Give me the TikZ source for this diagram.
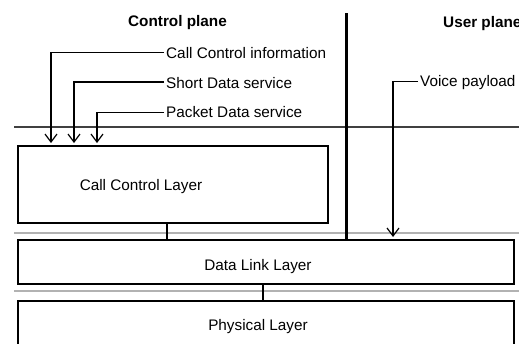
\documentclass[tikz,border=0pt]{standalone}
\usepackage{fontspec}
\setmainfont{Liberation Sans}
\usetikzlibrary{arrows.meta}
\begin{document}
\begin{tikzpicture}[x=1pt,y=-1pt,
  lbl/.style={inner xsep=2pt,inner ysep=0pt,anchor=base west,font=\fontsize{15.3}{18}\selectfont},
  hdr/.style={inner sep=0pt,anchor=base west,font=\fontsize{15.3}{18}\selectfont\bfseries},
  layer/.style={draw,line width=2pt,rectangle,anchor=north west,inner sep=0pt},
  txt/.style={inner sep=0pt,anchor=base,font=\fontsize{15.3}{18}\selectfont},
  arr/.style={line width=1.2pt,-{Straight Barb[length=8pt,width=12pt,line width=1.2pt]},shorten >=2pt},
  sep/.style={line width=2pt,black!30},
  thinsep/.style={line width=1.1pt,black!75}]
\useasboundingbox (0,0) rectangle (519,343);
% boxes
\node[layer,minimum width=310pt,minimum height=77pt] (cc) at (17,145) {};
\node[layer,minimum width=496pt,minimum height=44pt] (dl) at (17,239) {};
\node[layer,minimum width=496pt,minimum height=70pt] (ph) at (17,300) {};
\node[txt] (cct) at (141,190) {Call Control Layer};
\node[txt] (dlt) at (258,270) {Data Link Layer};
\node[txt] (pht) at (258,330) {Physical Layer};
% separator lines
\coordinate (s1l) at (14,127); \coordinate (s1r) at (519,127);
\coordinate (s2l) at (14,233); \coordinate (s2r) at (519,233);
\coordinate (s3l) at (14,291); \coordinate (s3r) at (519,291);
\draw[thinsep] (s1l) -- (s1r);
\draw[sep] (s2l) -- (s2r);
\draw[sep] (s3l) -- (s3r);
% headers
\node[hdr] (cp) at (128,26.5) {Control plane};
\node[hdr] (up) at (443,27.5) {User plane};
% divider
\coordinate (divtop) at (346,13);
\draw[line width=3pt] (divtop) -- (divtop |- dl.north);
% inter-layer connectors
\draw[line width=2pt] ([xshift=150pt]cc.south west) -- ([xshift=150pt]cc.south west |- dl.north);
\draw[line width=2pt] ([xshift=246pt]dl.south west) -- ([xshift=246pt]dl.south west |- ph.north);
% labels and arrows
\node[lbl] (cci) at (164,58.5) {Call Control information};
\node[lbl] (sds) at (164,88) {Short Data service};
\node[lbl] (pds) at (164,117.5) {Packet Data service};
\node[lbl] (vp) at (418,86.5) {Voice payload};
\draw[arr] ([yshift=6pt]cci.base west) -| ([xshift=34pt]cc.north west);
\draw[arr] ([yshift=6pt]sds.base west) -| ([xshift=57pt]cc.north west);
\draw[arr] ([yshift=5pt]pds.base west) -| ([xshift=80pt]cc.north west);
\draw[arr] ([yshift=5pt]vp.base west) -| ([xshift=376pt]dl.north west);
\end{tikzpicture}
\end{document}
